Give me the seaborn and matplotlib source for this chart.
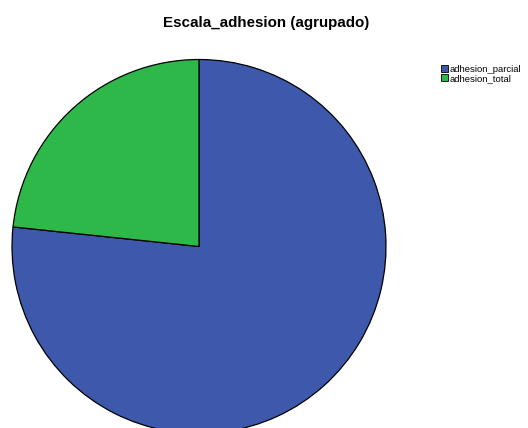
import matplotlib
matplotlib.use("Agg")
import matplotlib.pyplot as plt
import matplotlib.patches as mpatches
import seaborn as sns

categories = ["adhesion_parcial", "adhesion_total"]
counts = [23, 7]
colors = ["#3E58AC", "#2EB84A"]

sns.set_style("white")
plt.rcParams['font.family'] = ['Liberation Sans', 'DejaVu Sans']
plt.rcParams['text.color'] = 'black'

W, H = 528, 428
fig = plt.figure(figsize=(W / 100, H / 100), dpi=100)
cx, cy, r = 199, 246.5, 187
ax = fig.add_axes([(cx - r) / W, (H - cy - r) / H, 2 * r / W, 2 * r / H])
ax.pie(counts, colors=colors, startangle=90, counterclock=False, radius=1,
       wedgeprops=dict(edgecolor="black", linewidth=0.9))
ax.set_xlim(-1, 1)
ax.set_ylim(-1, 1)
ax.set_aspect("auto")
ax.axis("off")

fig.text(266.5 / W, 1 - 23.5 / H, "Escala_adhesion (agrupado)", ha="center", va="center",
         fontsize=10.9, fontweight="bold", color="black")

handles = [mpatches.Patch(facecolor=c, edgecolor="black", linewidth=0.6, label=l)
           for c, l in zip(colors, categories)]
fig.legend(handles=handles, loc="upper left", bbox_to_anchor=(434 / W, 1 - 58 / H),
           frameon=False, fontsize=6.8, handlelength=0.8, handleheight=0.8,
           handletextpad=0.15, labelspacing=0.05, borderpad=0.2, labelcolor="black")

fig.savefig("out.png", dpi=100, facecolor="white")
